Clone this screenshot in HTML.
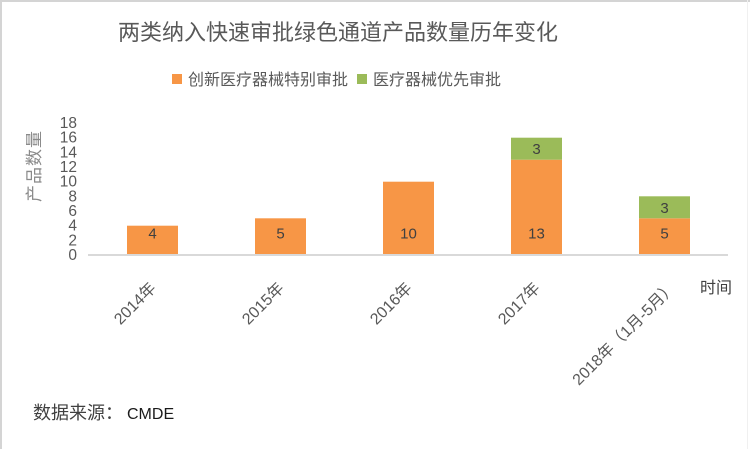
<!DOCTYPE html>
<html><head><meta charset="utf-8"><style>
html,body{margin:0;padding:0;background:#fff;}
svg{display:block;}
text{font-family:"Liberation Sans","Noto Sans CJK SC",sans-serif;}
</style></head><body>
<svg width="750" height="449" viewBox="0 0 750 449" xmlns="http://www.w3.org/2000/svg">
<rect x="0" y="0" width="750" height="449" fill="#fff"/>
<rect x="0" y="0" width="750" height="2" fill="#d4d4d4"/>
<rect x="0" y="0" width="2" height="449" fill="#d4d4d4"/>
<rect x="747" y="0" width="1" height="449" fill="#f0f0f0"/>

<text x="338" y="40" text-anchor="middle" font-size="22" fill="#595959">两类纳入快速审批绿色通道产品数量历年变化</text>

<rect x="172" y="74" width="10" height="10" fill="#F79646"/>
<text x="188" y="85" font-size="16" fill="#595959">创新医疗器械特别审批</text>
<rect x="357" y="74" width="10" height="10" fill="#9BBB59"/>
<text x="373" y="85" font-size="16" fill="#595959">医疗器械优先审批</text>

<text transform="translate(40,166) rotate(-90)" text-anchor="middle" font-size="17" letter-spacing="1" fill="#8a8a8a">产品数量</text>

<g font-size="15.5" fill="#595959" text-anchor="end">
<text x="77" y="260">0</text>
<text x="77" y="245.3">2</text>
<text x="77" y="230.6">4</text>
<text x="77" y="216">6</text>
<text x="77" y="201.3">8</text>
<text x="77" y="186.6">10</text>
<text x="77" y="172">12</text>
<text x="77" y="157.3">14</text>
<text x="77" y="142.6">16</text>
<text x="77" y="128">18</text>
</g>

<!-- bars -->
<rect x="127" y="225.7" width="51" height="29.3" fill="#F79646"/>
<rect x="255" y="218.3" width="51" height="36.7" fill="#F79646"/>
<rect x="383" y="181.7" width="51" height="73.3" fill="#F79646"/>
<rect x="511" y="159.7" width="51" height="95.3" fill="#F79646"/>
<rect x="511" y="137.7" width="51" height="22" fill="#9BBB59"/>
<rect x="639" y="218.3" width="51" height="36.7" fill="#F79646"/>
<rect x="639" y="196.3" width="51" height="22" fill="#9BBB59"/>

<rect x="88" y="254" width="640" height="2" fill="#d9d9d9"/>

<g font-size="15" fill="#404040" text-anchor="middle">
<text x="152.5" y="238.5">4</text>
<text x="280.5" y="238.5">5</text>
<text x="408.5" y="238.5">10</text>
<text x="536.5" y="238.5">13</text>
<text x="536.5" y="154">3</text>
<text x="664.5" y="238.5">5</text>
<text x="664.5" y="213">3</text>
</g>

<g font-size="16" fill="#595959" text-anchor="end">
<text transform="translate(157,289) rotate(-45)">2014年</text>
<text transform="translate(285,289) rotate(-45)">2015年</text>
<text transform="translate(413,289) rotate(-45)">2016年</text>
<text transform="translate(541,289) rotate(-45)">2017年</text>
<text transform="translate(677,288) rotate(-45)">2018年（1月-5月）</text>
</g>

<text x="700" y="293" font-size="16" fill="#404040">时间</text>

<text x="33" y="419" font-size="18" fill="#404040" font-family="'Noto Serif CJK SC','Liberation Serif',serif">数据来源：</text>
<text x="127" y="419" font-size="16" fill="#1a1a1a">CMDE</text>
</svg>
</body></html>
